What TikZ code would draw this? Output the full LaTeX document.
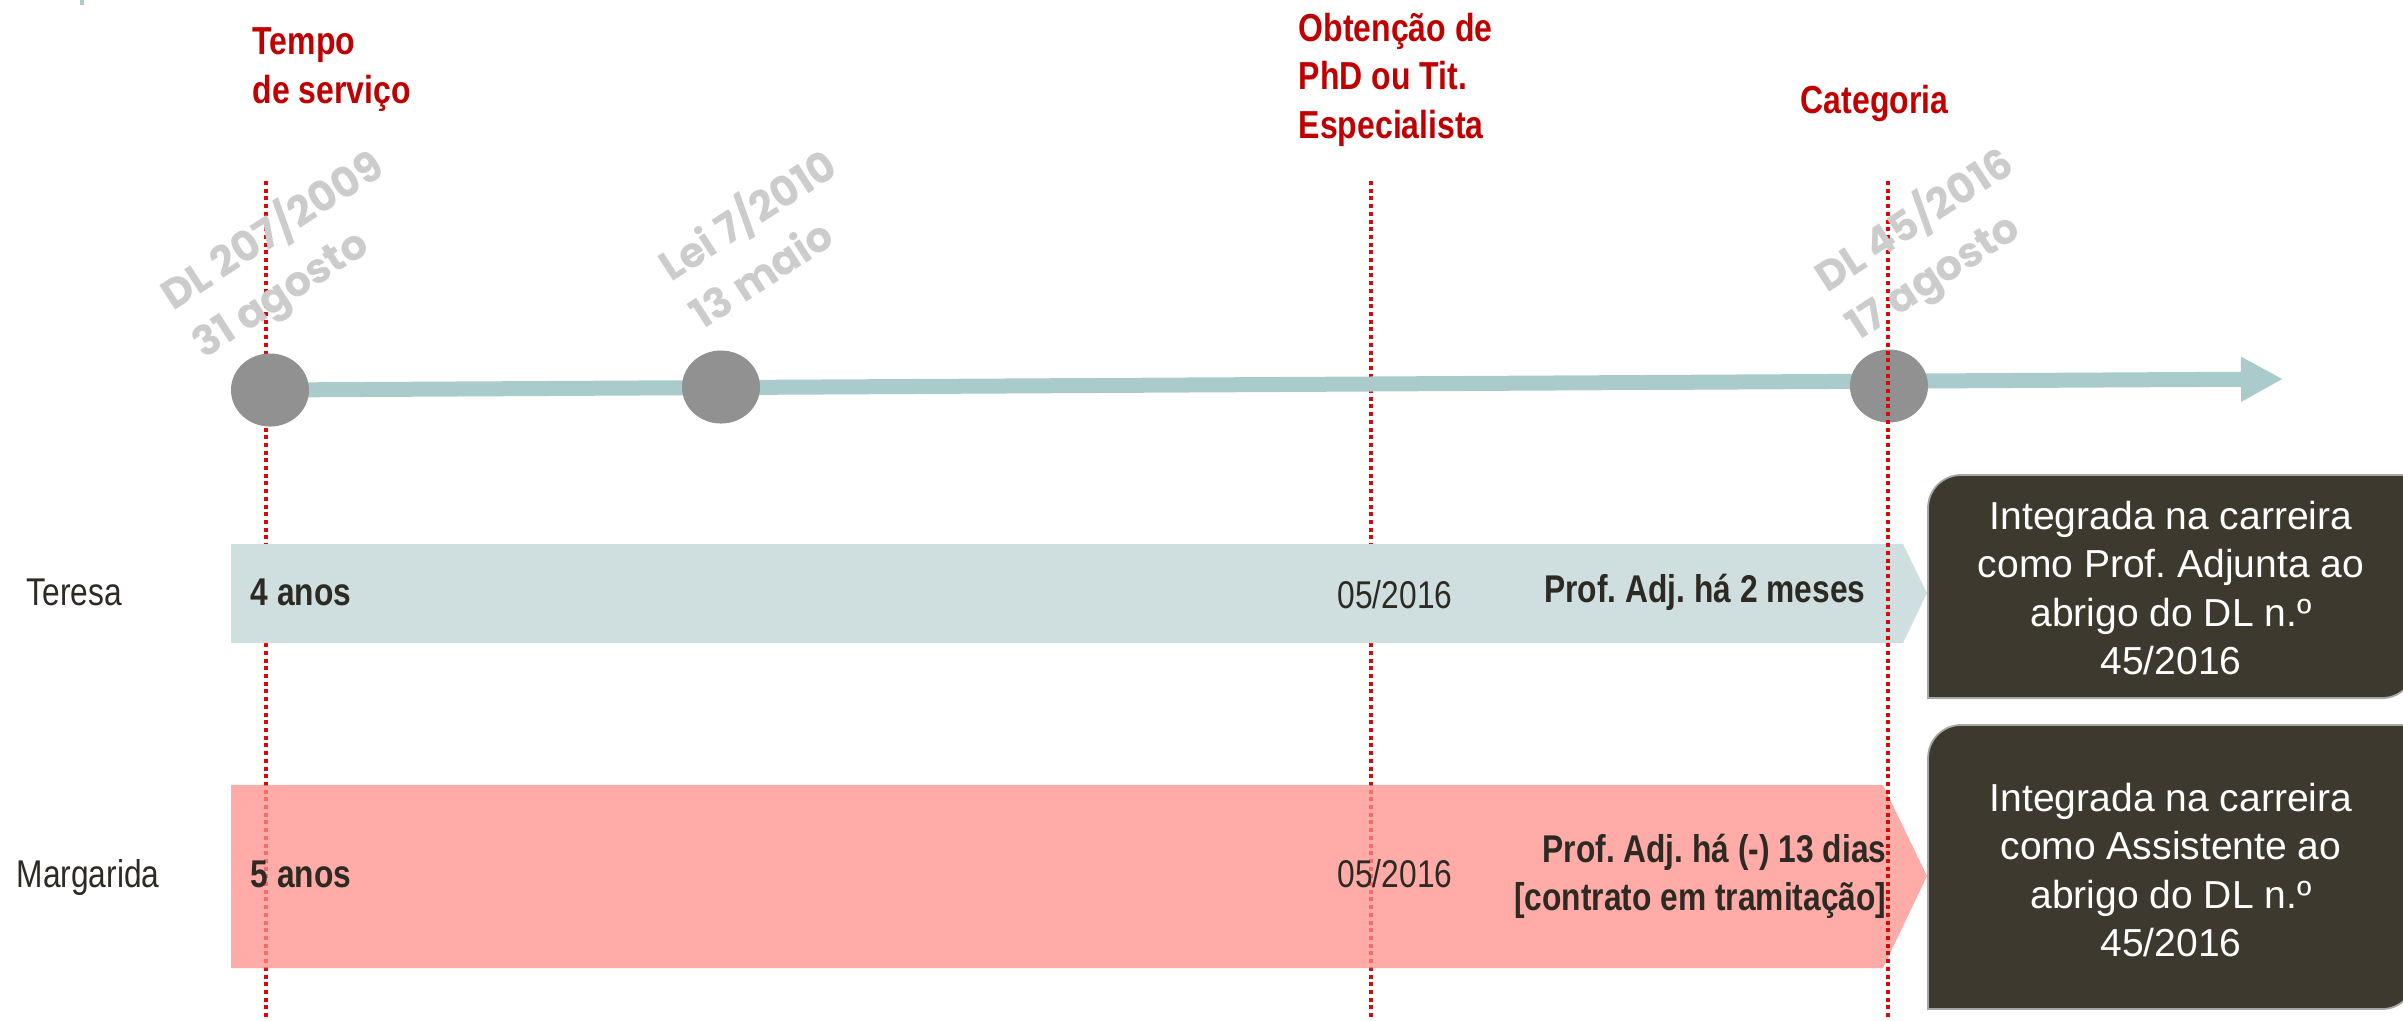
\documentclass[tikz,border=0pt]{standalone}
\usepackage{fontspec}
\setmainfont{Liberation Sans}
\newfontfamily\narrowfont[FakeStretch=0.82]{Liberation Sans}
\newfontfamily\lawfont{Poppins}
\usetikzlibrary{shapes.geometric,arrows.meta}
\frenchspacing

\definecolor{lineTeal}{RGB}{170,203,203}
\definecolor{barTeal}{RGB}{207,223,223}
\definecolor{barPink}{RGB}{255,143,139}
\definecolor{dotGray}{RGB}{145,145,145}
\definecolor{lawGray}{RGB}{204,204,204}
\definecolor{headRed}{RGB}{192,0,0}
\definecolor{markRed}{RGB}{215,10,10}
\definecolor{boxDark}{RGB}{62,57,46}
\definecolor{txtDark}{RGB}{45,42,35}

\begin{document}
\begin{tikzpicture}[x=0.01cm,y=-0.01cm]
\tikzset{MarkLine/.style =
	{draw = markRed,
		line width = 0.04cm,
		dash pattern = on 0.04cm off 0.037cm},
	EventStyle/.style =
	{shape = ellipse,
		fill = dotGray,
		minimum width = 0.78cm,
		minimum height = 0.73cm,
		inner sep = 0pt},
	LawStyle/.style =
	{font = \lawfont\bfseries\fontsize{11.8}{16.2}\selectfont,
		text = lawGray,
		align = left,
		rotate = 33,
		inner sep = 0pt,
		anchor = base west},
	HeadStyle/.style =
	{font = \narrowfont\bfseries\fontsize{11.1}{13.7}\selectfont,
		text = headRed,
		align = left,
		inner sep = 0pt,
		anchor = base west},
	NameStyle/.style =
	{font = \narrowfont\fontsize{11}{13.7}\selectfont,
		text = txtDark,
		inner sep = 0pt},
	BoldStyle/.style =
	{NameStyle,
		font = \narrowfont\bfseries\fontsize{11}{13.4}\selectfont},
	BoxText/.style =
	{font = \fontsize{11.1}{13.7}\selectfont,
		text = white,
		align = center,
		inner sep = 0pt},
	BoxShape/.style =
	{fill = boxDark,
		draw = gray!70,
		line width = 0.5pt}}
\useasboundingbox (0,0) rectangle (2403,1020);
\fill[lineTeal] (80,0) rectangle (84,5);
% guide lines under the timeline
\draw[MarkLine] (266,181) -- (266,1020);
\draw[MarkLine] (1371,181) -- (1371,1020);
% timeline
\coordinate (tlStart) at (270,390);
\coordinate (tlEnd) at (2283,379);
\draw[lineTeal, line width = 0.15cm, -{Triangle[length=0.42cm,width=0.42cm]}] (tlStart) -- (tlEnd);
\node[EventStyle] (ev2009) at (270,390) {};
\node[EventStyle] (ev2010) at (721,387) {};
\node[EventStyle] (ev2016) at (1889,386) {};
% bars
\fill[barTeal] (231,544) -- (1903,544) -- (1927,593) -- (1903,643) -- (231,643) -- cycle;
\fill[barPink, fill opacity = 0.75] (231,785) -- (1883,785) -- (1927,876) -- (1883,968) -- (231,968) -- cycle;
\draw[MarkLine] (1888,181) -- (1888,1020);
% result boxes
\path[BoxShape] (1928,698) -- (1928,508) arc[start angle=180, end angle=90, radius=0.33cm]
	-- (2415,475) -- (2415,665) arc[start angle=0, end angle=-90, radius=0.33cm] -- cycle;
\path[BoxShape] (1928,1009) -- (1928,758) arc[start angle=180, end angle=90, radius=0.33cm]
	-- (2415,725) -- (2415,976) arc[start angle=0, end angle=-90, radius=0.33cm] -- cycle;
\node[BoxText] (resTeresa) at (2171,588) {Integrada na carreira\\como Prof. Adjunta ao\\abrigo do DL n.º\\45/2016};
\node[BoxText] (resMargarida) at (2171,870) {Integrada na carreira\\como Assistente ao\\abrigo do DL n.º\\45/2016};
% headers (anchored on their last line)
\node[HeadStyle] (hdTempo) at (252,103) {Tempo\\de serviço};
\node[HeadStyle] (hdPhD) at (1298,138) {Obtenção de\\PhD ou Tit.\\Especialista};
\node[HeadStyle] (hdCat) at (1800,113) {Categoria};
% laws
\node[LawStyle] (lawDL207) at (204,360) {DL 207/2009\\31 agosto};
\node[LawStyle] (lawLei7) at (702,331) {Lei 7/2010\\13 maio};
\node[LawStyle] (lawDL45) at (1858,342) {DL 45/2016\\17 agosto};
% rows
\node[NameStyle, anchor = base west] (nmTeresa) at (26,605) {Teresa};
\node[NameStyle, anchor = base west] (nmMargarida) at (16,887) {Margarida};
\node[BoldStyle, anchor = base west] (yrTeresa) at (250,605) {4 anos};
\node[BoldStyle, anchor = base west] (yrMargarida) at (250,887) {5 anos};
\node[NameStyle, anchor = base west] (phdTeresa) at (1337,608) {05/2016};
\node[NameStyle, anchor = base west] (phdMargarida) at (1337,887) {05/2016};
\node[BoldStyle, anchor = base east] (catTeresa) at (1866,602) {Prof. Adj. há 2 meses};
\node[BoldStyle, anchor = base east, align = right] (catMargarida) at (1887,910) {Prof. Adj. há (-) 13 dias\\{[}contrato em tramitação]};
\end{tikzpicture}
\end{document}
